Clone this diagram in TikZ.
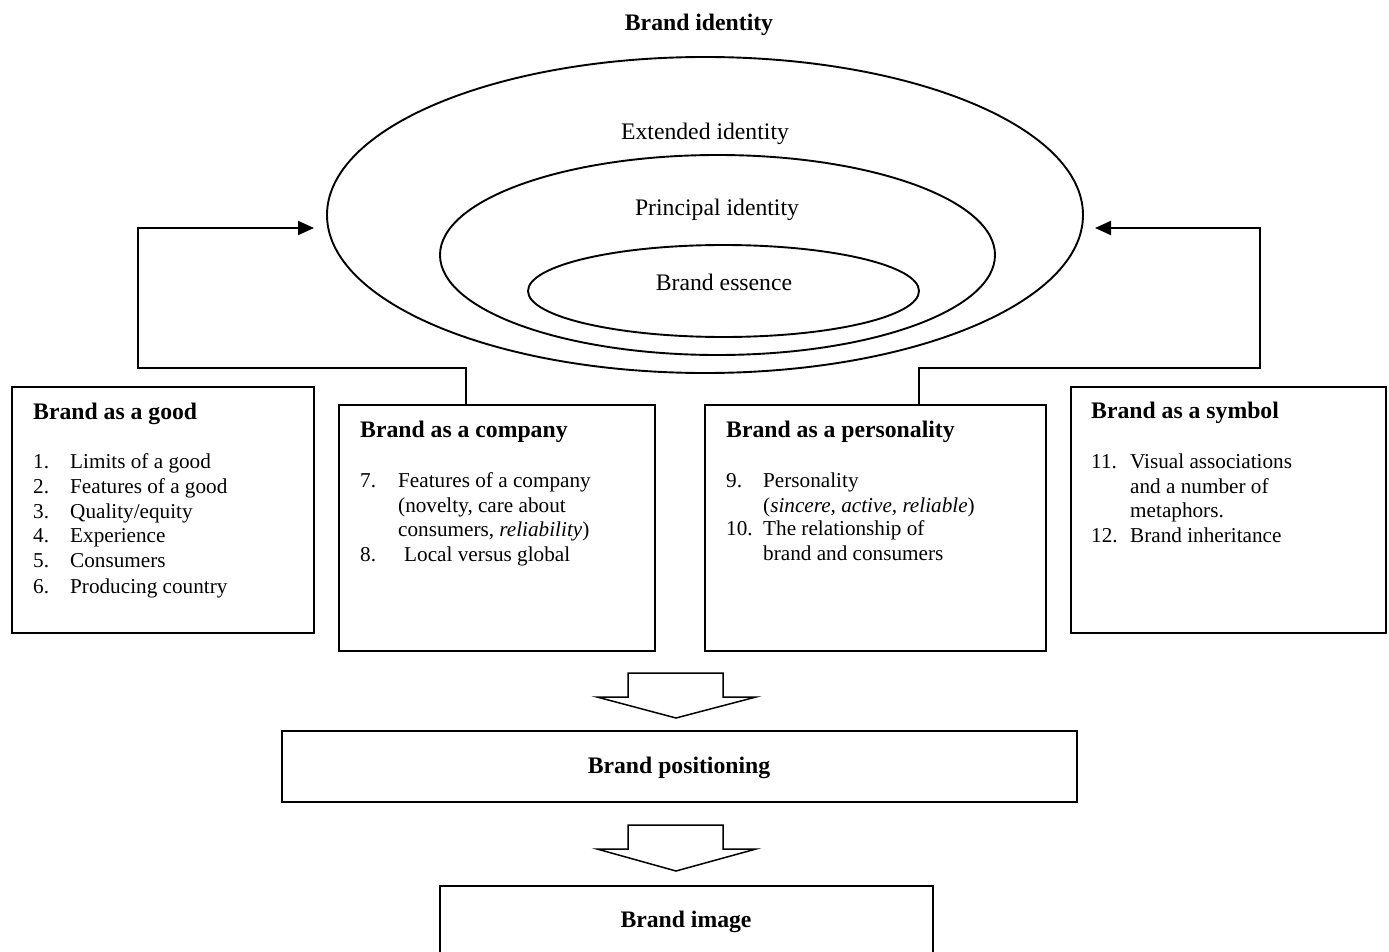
\documentclass[tikz,border=0pt]{standalone}
\usepackage{fontspec}
\setmainfont{Liberation Serif}
\usetikzlibrary{arrows.meta,shapes.geometric}
\begin{document}
\begin{tikzpicture}[x=1pt,y=-1pt,
  big/.style={font=\fontsize{23.7}{28}\selectfont},
  small/.style={font=\fontsize{21.2}{25}\selectfont},
  lt/.style={inner sep=0, anchor=base west, small},
  ct/.style={inner sep=0, anchor=base, big},
  ttl/.style={inner sep=0, anchor=base west, big, font=\fontsize{23.7}{28}\selectfont\bfseries},
  box/.style={draw, line width=2pt, inner sep=0, rectangle},
  ell/.style={draw, line width=1.9pt, inner sep=0, ellipse},
  conn/.style={line width=1.9pt, -{Triangle[length=16pt,width=14pt]}},
  blk/.style={draw, line width=1.5pt, line join=miter}]
\useasboundingbox (0,0) rectangle (1389,952);
\clip (0,0) rectangle (1389,952);

% title
\node[ct, font=\fontsize{23.7}{28}\selectfont\bfseries] (title) at (699,31) {Brand identity};

% ellipses
\node[ell, minimum width=756, minimum height=316] (outer) at (705,215) {};
\node[ell, minimum width=555, minimum height=200] (middle) at (717.5,255) {};
\node[ell, minimum width=391, minimum height=92] (inner) at (723.5,291) {};
\node[ct] (ext) at (705,140) {Extended identity};
\node[ct] (pri) at (717,215) {Principal identity};
\node[ct] (ess) at (724,290) {Brand essence};

% boxes
\node[box, minimum width=302, minimum height=246] (good) at (163,510) {};
\node[box, minimum width=316, minimum height=246] (company) at (497,528) {};
\node[box, minimum width=341, minimum height=246] (person) at (875.5,528) {};
\node[box, minimum width=315, minimum height=246] (symbol) at (1228.5,510) {};

% good
\node[ttl] (g0) at (33,419) {Brand as a good};
\node[lt] (g1n) at (33,468) {1.}; \node[lt] (g1) at (70,468) {Limits of a good};
\node[lt] (g2n) at (33,493) {2.}; \node[lt] (g2) at (70,493) {Features of a good};
\node[lt] (g3n) at (33,518) {3.}; \node[lt] (g3) at (70,518) {Quality/equity};
\node[lt] (g4n) at (33,542) {4.}; \node[lt] (g4) at (70,542) {Experience};
\node[lt] (g5n) at (33,567) {5.}; \node[lt] (g5) at (70,567) {Consumers};
\node[lt] (g6n) at (33,593) {6.}; \node[lt] (g6) at (70,593) {Producing country};

% company
\node[ttl] (c0) at (360,437) {Brand as a company};
\node[lt] (c1n) at (360,487) {7.}; \node[lt] (c1) at (398,487) {Features of a company};
\node[lt] (c2) at (398,512) {(novelty, care about};
\node[lt] (c3) at (398,536) {consumers, \textit{reliability})};
\node[lt] (c4n) at (360,561) {8.}; \node[lt] (c4) at (404,561) {Local versus global};

% personality
\node[ttl] (p0) at (726,437) {Brand as a personality};
\node[lt] (p1n) at (726,487) {9.}; \node[lt] (p1) at (763,487) {Personality};
\node[lt] (p2) at (763,512) {(\textit{sincere, active, reliable})};
\node[lt] (p3n) at (726,535) {10.}; \node[lt] (p3) at (763,535) {The relationship of};
\node[lt] (p4) at (763,560) {brand and consumers};

% symbol
\node[ttl] (s0) at (1091,418) {Brand as a symbol};
\node[lt] (s1n) at (1091,468) {11.}; \node[lt] (s1) at (1130,468) {Visual associations};
\node[lt] (s2) at (1130,493) {and a number of};
\node[lt] (s3) at (1130,517) {metaphors.};
\node[lt] (s4n) at (1091,542) {12.}; \node[lt] (s4) at (1130,542) {Brand inheritance};

% connectors
\coordinate (lj) at (138,368);
\coordinate (ltip) at (314,228);
\coordinate (rj) at (1260,368);
\coordinate (rtip) at (1095,228);
\draw[conn] ([xshift=-31pt]company.north) |- (lj) |- (ltip);
\draw[conn] ([xshift=43.5pt]person.north) |- (rj) |- (rtip);

% bottom
\node[box, minimum width=795, minimum height=71] (pos) at (679.5,766.5) {};
\node[ct, font=\fontsize{23.7}{28}\selectfont\bfseries] (post) at (679,773) {Brand positioning};
\node[box, minimum width=493, minimum height=100] (img) at (686.5,936) {};
\node[ct, font=\fontsize{23.7}{28}\selectfont\bfseries] (imgt) at (686,927) {Brand image};

% block arrows
\draw[blk] (628,697) -- (628,673) -- (723,673) -- (723,697) -- (756,697) -- (676,718) -- (597,697) -- cycle;
\draw[blk] (628,849) -- (628,825) -- (723,825) -- (723,849) -- (756,849) -- (676,871) -- (597,849) -- cycle;
\end{tikzpicture}
\end{document}
